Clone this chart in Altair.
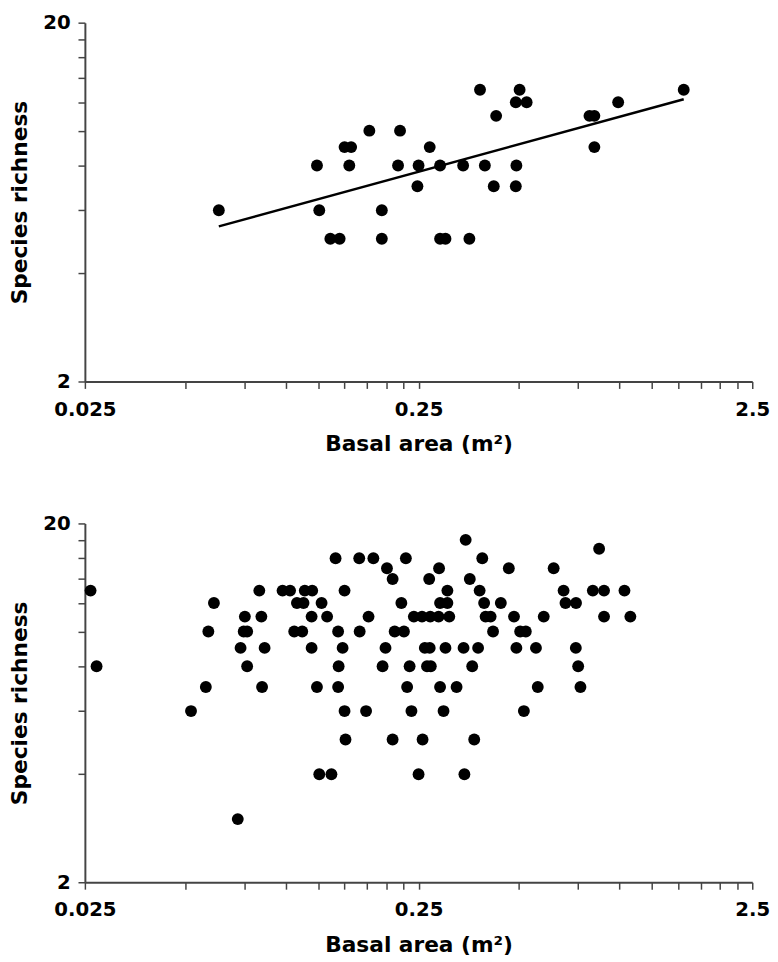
import altair as alt
import pandas as pd

# ---------------- data ----------------
# Top panel: basal area (m^2) and species richness
top_x = [0.382, 0.502, 1.558,
         0.489, 0.527, 0.991,
         0.427, 0.813, 0.841,
         0.178, 0.220,
         0.150, 0.157, 0.270, 0.841,
         0.124, 0.155, 0.217, 0.250, 0.290, 0.340, 0.395, 0.491,
         0.248, 0.420, 0.489,
         0.063, 0.126, 0.194,
         0.136, 0.145, 0.194, 0.290, 0.301, 0.355]
top_y = [13, 13, 13,
         12, 12, 12,
         11, 11, 11,
         10, 10,
         9, 9, 9, 9,
         8, 8, 8, 8, 8, 8, 8, 8,
         7, 7, 7,
         6, 6, 6,
         5, 5, 5, 5, 5, 5]

# Fitted line in the top panel (end points)
fit_x = [0.063, 1.558]
fit_y = [5.41, 12.24]

# Bottom panel: basal area values grouped by species richness
bottom_rows = {
    18: [0.346],
    17: [0.869],
    16: [0.141, 0.166, 0.183, 0.229, 0.388],
    15: [0.201, 0.288, 0.466, 0.635],
    14: [0.209, 0.269, 0.356],
    13: [0.026, 0.0833, 0.0978, 0.103, 0.114, 0.120, 0.150, 0.305, 0.381,
         0.680, 0.832, 0.899, 1.035],
    12: [0.0609, 0.108, 0.113, 0.128, 0.222, 0.290, 0.305, 0.393, 0.441,
         0.689, 0.741],
    11: [0.0754, 0.0845, 0.1195, 0.133, 0.177, 0.242, 0.256, 0.271, 0.287,
         0.309, 0.397, 0.411, 0.483, 0.593, 0.899, 1.078],
    10: [0.0586, 0.0748, 0.0766, 0.106, 0.112, 0.1435, 0.1665, 0.212, 0.226,
         0.418, 0.504, 0.524],
    9: [0.0732, 0.0864, 0.1195, 0.148, 0.199, 0.261, 0.270, 0.301, 0.341,
        0.377, 0.491, 0.562, 0.740],
    8: [0.0271, 0.0766, 0.144, 0.195, 0.235, 0.265, 0.272, 0.362, 0.752],
    7: [0.0576, 0.0849, 0.124, 0.1435, 0.231, 0.290, 0.325, 0.569, 0.764],
    6: [0.0520, 0.150, 0.174, 0.238, 0.297, 0.517],
    5: [0.151, 0.209, 0.257, 0.367],
    4: [0.126, 0.137, 0.250, 0.343],
    3: [0.0718],
}

# Axis tick positions and labels
x_ticks = [0.025, 0.05, 0.075, 0.1, 0.125, 0.15, 0.175, 0.2, 0.225, 0.25,
           0.5, 0.75, 1.0, 1.25, 1.5, 1.75, 2.0, 2.25, 2.5]
x_labeled = [0.025, 0.25, 2.5]
y_ticks = [2, 4, 6, 8, 10, 12, 14, 16, 18, 20]
y_labeled = [2, 20]
x_title = "Basal area (m²)"
y_title = "Species richness"

# ---------------- build tables ----------------
top_df = pd.DataFrame({"x": top_x, "y": top_y})
fit_df = pd.DataFrame({"x": fit_x, "y": fit_y})
bx, by = [], []
for rich, vals in bottom_rows.items():
    for v in vals:
        bx.append(v)
        by.append(rich)
bottom_df = pd.DataFrame({"x": bx, "y": by})

FONT = "DejaVu Sans"
W, H = 677, 364
LABEL_SIZE = 20
TITLE_SIZE = 22

x_expr = "indexof(" + str(x_labeled) + ", datum.value) >= 0 ? toString(datum.value) : ''"
y_expr = "indexof(" + str(y_labeled) + ", datum.value) >= 0 ? toString(datum.value) : ''"

x_axis = alt.Axis(values=x_ticks, labelExpr=x_expr, title=x_title, grid=False,
                  tickSize=7, tickWidth=1.5, tickColor="#444",
                  domainColor="#444", domainWidth=2,
                  labelFont=FONT, labelFontWeight="bold", labelFontSize=LABEL_SIZE,
                  labelColor="black", labelPadding=11, labelOverlap=False,
                  labelFlush=False,
                  titleFont=FONT, titleFontWeight="bold", titleFontSize=TITLE_SIZE,
                  titleColor="black", titlePadding=15)
y_axis = alt.Axis(values=y_ticks, labelExpr=y_expr, title=y_title, grid=False,
                  tickSize=7, tickWidth=1.5, tickColor="#444",
                  domainColor="#444", domainWidth=2,
                  labelFont=FONT, labelFontWeight="bold", labelFontSize=LABEL_SIZE,
                  labelColor="black", labelPadding=8, labelOverlap=False,
                  labelFlush=False,
                  titleFont=FONT, titleFontWeight="bold", titleFontSize=TITLE_SIZE,
                  titleColor="black", titlePadding=11)

xs = alt.Scale(type="log", domain=[0.025, 2.5], nice=False)
ys = alt.Scale(type="log", domain=[2, 20], nice=False)


def points(df):
    return alt.Chart(df).mark_circle(size=145, color="black", opacity=1).encode(
        x=alt.X("x:Q", scale=xs, axis=x_axis),
        y=alt.Y("y:Q", scale=ys, axis=y_axis),
    )


line = alt.Chart(fit_df).mark_line(color="black", strokeWidth=2.5).encode(
    x=alt.X("x:Q", scale=xs, axis=x_axis),
    y=alt.Y("y:Q", scale=ys, axis=y_axis),
)

top = alt.layer(points(top_df), line).properties(width=W, height=H)
bottom = points(bottom_df).properties(width=W, height=H)

chart = alt.vconcat(top, bottom, spacing=60).configure_view(
    stroke=None
).properties(
    padding={"left": 1, "top": -2, "right": 0, "bottom": 0},
    background="white",
)

chart.save("out.html", embed_options={"renderer": "svg", "actions": False})
